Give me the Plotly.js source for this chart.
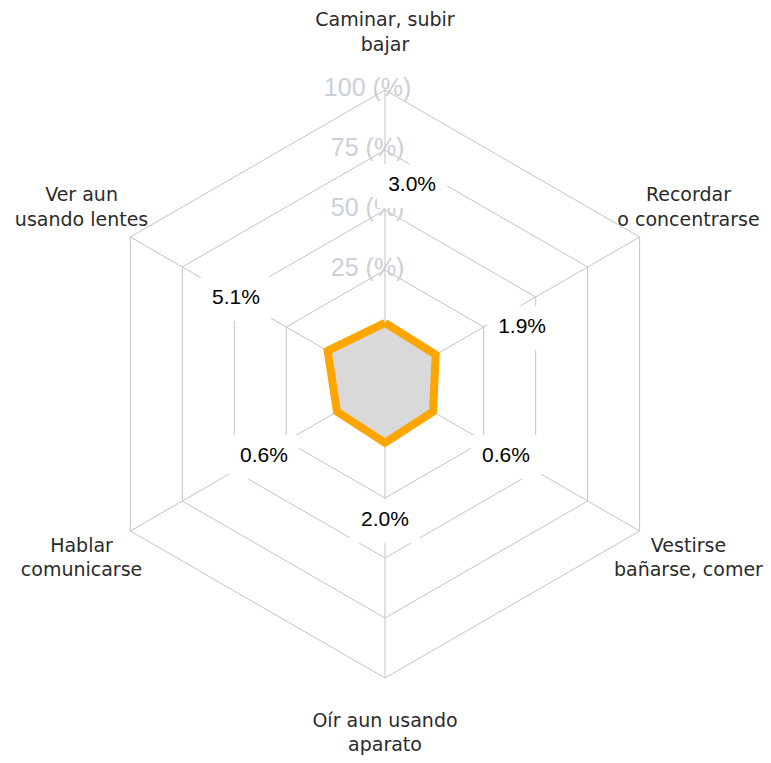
<!DOCTYPE html>
<html>
<head>
<meta charset="utf-8">
<script src="https://cdn.plot.ly/plotly-3.0.1.min.js"></script>
<style>
  html, body { margin: 0; padding: 0; background: #fff; }
  #radar { width: 771px; height: 763px; }
</style>
</head>
<body>
<div id="radar"></div>
<script>
// categories, clockwise from the top
const categories = ['Caminar, subir bajar', 'Recordar o concentrarse', 'Vestirse bañarse, comer',
                    'Oír aun usando aparato', 'Hablar comunicarse', 'Ver aun usando lentes'];
const category_labels = ['Caminar, subir<br>bajar', 'Recordar<br>o concentrarse', 'Vestirse<br>bañarse, comer',
                         'Oír aun usando<br>aparato', 'Hablar<br>comunicarse', 'Ver aun<br>usando lentes'];
const values = [3.0, 1.9, 0.6, 2.0, 0.6, 5.1];
const radial_ticks = [0, 25, 50, 75, 100];
const radial_tick_labels = ['0 (%)', '25 (%)', '50 (%)', '75 (%)', '100 (%)'];

// where the value labels sit: radius (axis units) and angle (degrees clockwise from top)
const value_label_r = [60.7, 39.2, 36.4, 34.6, 36.4, 49];
const value_label_theta = [7.8, 67.8, 121.1, 180, 238.9, 299.7];
const category_label_r = 123.5;

// geometry in pixels: centre of the web and radius of the 100 ring
const W = 771, H = 763, cx = 385, cy = 384, R = 294;
const r_min = -22.5, r_max = 100, r_outer = 125;
const R_outer = R * (r_outer - r_min) / (r_max - r_min);
const dom = (rad) => ({
    x: [(cx - rad) / W, (cx + rad) / W],
    y: [(H - cy - rad) / H, (H - cy + rad) / H]
});

const grid = '#c3c3c3';

var data = [
    {
        type: 'scatterpolar',
        r: values.concat([values[0]]),
        theta: categories.concat([categories[0]]),
        mode: 'lines',
        fill: 'toself',
        fillcolor: '#d9d9d9',
        line: {color: '#ffa500', width: 8},
        hoverinfo: 'skip'
    },
    {
        // radial tick labels along the top spoke
        type: 'scatterpolar',
        r: radial_ticks,
        theta: radial_ticks.map(() => categories[0]),
        mode: 'text',
        text: radial_tick_labels.map(t => t + '\u00a0\u00a0\u00a0\u00a0\u00a0'),
        textposition: 'middle center',
        textfont: {family: 'Liberation Sans, Arial, sans-serif', size: 25, color: '#cbcfd9'},
        cliponaxis: false,
        hoverinfo: 'skip'
    },
    {
        // value labels on white boxes
        type: 'scatterpolar',
        subplot: 'polar3',
        r: value_label_r,
        theta: value_label_theta,
        mode: 'markers+text',
        marker: {symbol: 'line-ew', size: 50, line: {width: 44, color: '#fff'}},
        text: values.map(v => v.toFixed(1) + '%'),
        textposition: 'middle center',
        textfont: {family: 'Liberation Sans, Arial, sans-serif', size: 21, color: '#000'},
        cliponaxis: false,
        hoverinfo: 'skip'
    },
    {
        type: 'scatterpolar',
        subplot: 'polar2',
        r: categories.map(() => category_label_r),
        theta: categories,
        mode: 'text',
        text: category_labels,
        textposition: 'middle center',
        textfont: {family: 'DejaVu Sans, sans-serif', size: 19, color: '#2b2b2b'},
        cliponaxis: false,
        hoverinfo: 'skip'
    }
];

var layout = {
    width: W,
    height: H,
    margin: {l: 0, r: 0, t: 0, b: 0},
    paper_bgcolor: '#fff',
    showlegend: false,
    polar: {
        domain: dom(R),
        bgcolor: '#fff',
        gridshape: 'linear',
        radialaxis: {
            range: [r_min, r_max],
            tickvals: radial_ticks,
            showticklabels: false,
            ticks: '',
            showline: false,
            gridcolor: grid,
            gridwidth: 1
        },
        angularaxis: {
            type: 'category',
            categoryarray: categories,
            rotation: 90,
            direction: 'clockwise',
            showticklabels: false,
            ticks: '',
            showline: true,
            linecolor: grid,
            linewidth: 1,
            gridcolor: grid,
            gridwidth: 1
        }
    },
    // transparent outer web that only carries the category names
    polar2: {
        domain: dom(R_outer),
        bgcolor: 'rgba(0,0,0,0)',
        radialaxis: {range: [r_min, r_outer], visible: false},
        angularaxis: {
            type: 'category',
            categoryarray: categories,
            rotation: 90,
            direction: 'clockwise',
            visible: false
        }
    },
    // transparent web in degrees for the value labels
    polar3: {
        domain: dom(R),
        bgcolor: 'rgba(0,0,0,0)',
        radialaxis: {range: [r_min, r_max], visible: false},
        angularaxis: {
            type: 'linear',
            rotation: 90,
            direction: 'clockwise',
            visible: false
        }
    }
};

Plotly.newPlot('radar', data, layout, {staticPlot: true});
</script>
</body>
</html>
